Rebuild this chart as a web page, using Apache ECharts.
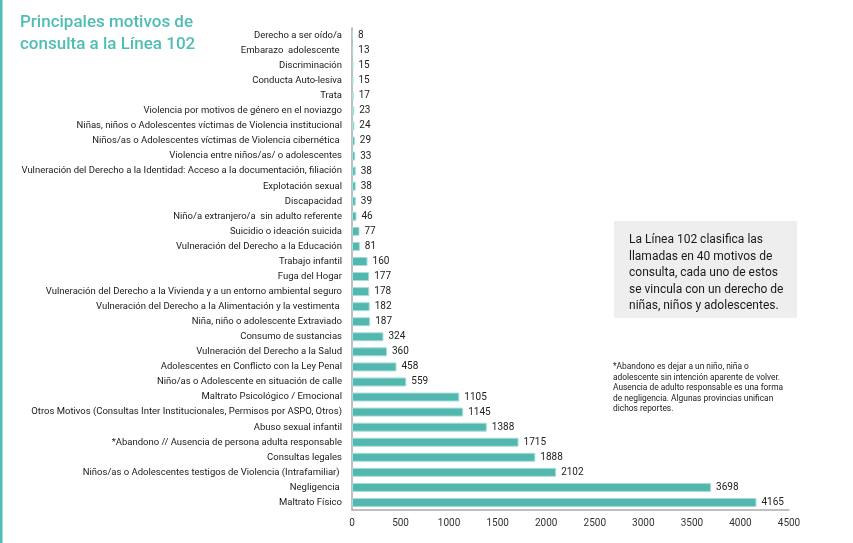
<!DOCTYPE html>
<html>
<head>
<meta charset="utf-8">
<script src="https://cdn.jsdelivr.net/npm/echarts@6/dist/echarts.min.js"></script>
<style>html,body{margin:0;padding:0;background:#fff}#c{width:853px;height:543px}</style>
</head>
<body>
<div id="c"></div>
<script>
const categories = [
  "Derecho a ser oído/a",
  "Embarazo  adolescente ",
  "Discriminación",
  "Conducta Auto-lesiva",
  "Trata",
  "Violencia por motivos de género en el noviazgo",
  "Niñas, niños o Adolescentes víctimas de Violencia institucional",
  "Niños/as o Adolescentes víctimas de Violencia cibernética ",
  "Violencia entre niños/as/ o adolescentes",
  "Vulneración del Derecho a la Identidad: Acceso a la documentación, filiación",
  "Explotación sexual",
  "Discapacidad",
  "Niño/a extranjero/a  sin adulto referente",
  "Suicidio o ideación suicida",
  "Vulneración del Derecho a la Educación",
  "Trabajo infantil",
  "Fuga del Hogar",
  "Vulneración del Derecho a la Vivienda y a un entorno ambiental seguro",
  "Vulneración del Derecho a la Alimentación y la vestimenta ",
  "Niña, niño o adolescente Extraviado",
  "Consumo de sustancias",
  "Vulneración del Derecho a la Salud",
  "Adolescentes en Conflicto con la Ley Penal",
  "Niño/as o Adolescente en situación de calle",
  "Maltrato Psicológico / Emocional",
  "Otros Motivos (Consultas Inter Institucionales, Permisos por ASPO, Otros)",
  "Abuso sexual infantil",
  "*Abandono // Ausencia de persona adulta responsable",
  "Consultas legales",
  "Niños/as o Adolescentes testigos de Violencia (Intrafamiliar) ",
  "Negligencia ",
  "Maltrato Físico"
];
const values = [8,13,15,15,17,23,24,29,33,38,38,39,46,77,81,160,177,178,182,187,324,360,458,559,1105,1145,1388,1715,1888,2102,3698,4165];
const xTicks = [0,500,1000,1500,2000,2500,3000,3500,4000,4500];

const chart = echarts.init(document.getElementById('c'));
const teal = '#52b8af';
chart.setOption({
  animation: false,
  textStyle: {fontFamily: 'Roboto'},
  grid: {left: 352, right: 64, top: 28, bottom: 33},
  xAxis: {
    type: 'value', min: xTicks[0], max: xTicks[xTicks.length-1], interval: 500,
    axisLine: {show: true, lineStyle: {color: '#aaa', width: 1.5}},
    axisTick: {show: false}, splitLine: {show: false},
    axisLabel: {color: '#333', fontSize: 10, margin: 8, fontFamily: 'Roboto', formatter: v => String(v)}
  },
  yAxis: {
    type: 'category', data: categories, inverse: true,
    axisLine: {show: true, lineStyle: {color: '#aaa', width: 1.5}},
    axisTick: {show: false},
    axisLabel: {color: '#1a1a1a', fontSize: 9.5, margin: 10, fontFamily: 'Roboto', interval: 0}
  },
  series: [{
    type: 'bar', data: values, barWidth: 9,
    itemStyle: {color: teal, borderColor: '#a9ddd8', borderWidth: 1},
    label: {show: true, position: 'right', distance: 5, color: '#222', fontSize: 10, fontFamily: 'Roboto'}
  }],
  graphic: [
    {type: 'rect', left: 0, top: 0, shape: {width: 2.5, height: 543}, style: {fill: '#4fbdb3'}},
    {type: 'text', left: 20, top: 12, style: {text: 'Principales motivos de\nconsulta a la Línea 102', fill: '#4fbdb3', font: '500 17px Roboto', lineHeight: 22}},
    {type: 'rect', left: 614, top: 221, shape: {width: 183, height: 97}, style: {fill: '#eeeeee'}},
    {type: 'text', left: 629, top: 232, style: {text: 'La Línea 102 clasifica las\nllamadas en 40 motivos de\nconsulta, cada uno de estos\nse vincula con un derecho de\nniñas, niños y adolescentes.', fill: '#1a1a1a', font: '12px Roboto', lineHeight: 16.5}},
    {type: 'text', left: 613, top: 362, style: {text: '*Abandono es dejar a un niño, niña o\nadolescente sin intención aparente de volver.\nAusencia de adulto responsable es una forma\nde negligencia. Algunas provincias unifican\ndichos reportes.', fill: '#1a1a1a', font: '8.4px Roboto', lineHeight: 10.4}}
  ]
});
</script>
</body>
</html>
